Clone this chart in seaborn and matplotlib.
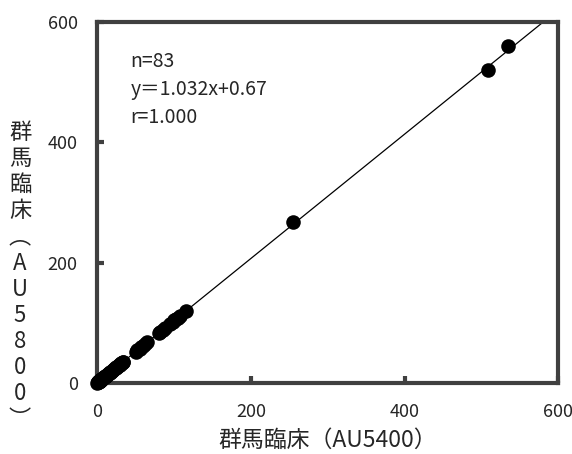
import matplotlib
matplotlib.use("Agg")
import matplotlib.pyplot as plt
import seaborn as sns
import pandas as pd

# AU5400 (x) vs AU5800 (y) measured values
au5400 = [0.3, 0.5, 0.7, 0.9, 1.0, 1.2, 1.4, 1.6, 1.8, 2.0, 2.2, 2.5, 2.8, 3.0, 3.3, 3.6,
          4.0, 4.3, 4.7, 5.0, 5.4, 5.8, 6.2, 6.6, 7.0, 7.5, 8.0, 8.5, 9.0, 9.6, 10.2, 10.8,
          11.5, 12.2, 13.0, 13.8, 14.5, 15.3, 16.0, 17.0, 18.0, 19.0, 20.0, 21.0, 22.0, 23.0,
          24.0, 25.0, 26.0, 27.0, 28.0, 29.0, 30.0, 31.0, 32.0, 33.0, 34.0, 2.3, 3.1, 4.1, 5.2, 6.1,
          50, 52, 55, 57, 60, 62, 65, 80, 82, 85, 88, 95, 98, 100, 103, 105, 108, 115,
          255, 508, 535]
au5800 = [1.0, 1.2, 1.4, 1.5, 1.8, 1.9, 2.1, 2.4, 2.5, 2.8, 2.9, 3.3, 3.5, 3.8, 4.0, 4.4,
          4.8, 5.1, 5.5, 5.9, 6.2, 6.7, 7.1, 7.5, 8.0, 8.4, 9.0, 9.5, 10.0, 10.6, 11.3, 11.9,
          12.5, 13.3, 14.2, 14.9, 15.8, 16.5, 17.3, 18.4, 19.2, 20.4, 21.5, 22.2, 23.6, 24.4,
          25.5, 26.6, 27.5, 28.7, 29.6, 30.8, 31.5, 32.9, 33.7, 34.9, 35.6, 3.1, 3.8, 4.9, 6.1, 7.0,
          52.5, 54.6, 57.3, 59.8, 62.5, 64.8, 67.6, 83.0, 85.5, 88.2, 91.5, 98.7, 101.5, 104.1,
          106.8, 108.9, 112.0, 119.5, 268, 520, 560]
slope = 1.032
intercept = 0.67
stats_text = ["n=83", "y＝1.032x+0.67", "r=1.000"]
axis_ticks = [0, 200, 400, 600]

df = pd.DataFrame({"AU5400": au5400, "AU5800": au5800})

sns.set_theme(style="white")
plt.rcParams["font.family"] = ["Noto Sans CJK JP", "DejaVu Sans"]

fig = plt.figure(figsize=(5.72, 4.54), dpi=100)
ax = fig.add_axes([0.170, 0.156, 0.806, 0.796])

sns.scatterplot(data=df, x="AU5400", y="AU5800", color="black", s=110,
                edgecolor="black", linewidth=0, ax=ax, zorder=3, clip_on=False)
ax.axline((0, intercept), slope=slope, color="black", linewidth=0.9, zorder=2)

ax.set_xlim(0, 600)
ax.set_ylim(0, 600)
ax.set_xticks(axis_ticks)
ax.set_yticks(axis_ticks)
ax.tick_params(direction="in", length=5, width=3, color="#404040",
               labelsize=13, pad=14, bottom=True, left=True)
for sp in ax.spines.values():
    sp.set_color("#404040")
    sp.set_linewidth(3)

ax.set_xlabel("群馬臨床（AU5400）", fontsize=16.5, labelpad=6)
ax.set_ylabel("")
# vertical (tategaki) y label, one character per line
fig.text(0.035, 0.392, "\n".join("群馬臨床︵AU5800︶"), fontsize=16,
         ha="center", va="center", linespacing=1.17)

stat_y = [0.889, 0.812, 0.734]
for t, yy in zip(stats_text, stat_y):
    ax.text(0.072, yy, t, transform=ax.transAxes, fontsize=14,
            ha="left", va="center")

fig.savefig("out.png", dpi=100)
